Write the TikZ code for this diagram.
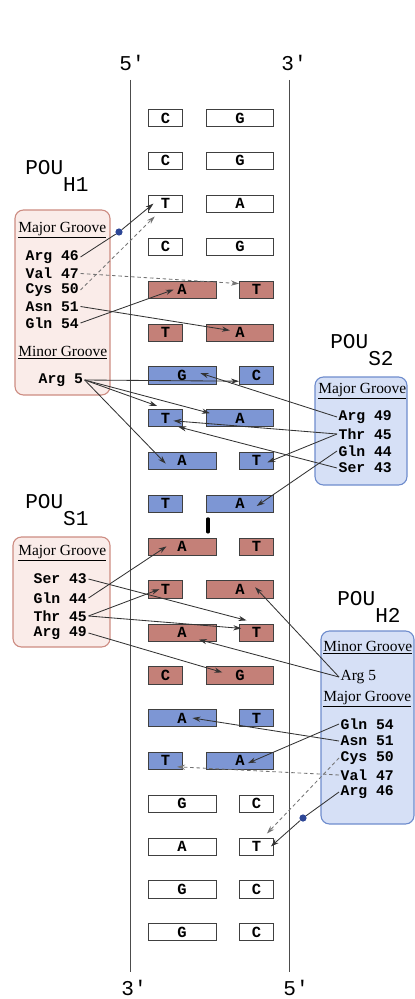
\documentclass[tikz,border=0pt]{standalone}
\usepackage{fontspec}
\setmainfont{Liberation Serif}
\setmonofont{Liberation Mono}
\usepackage{tikz}
\usetikzlibrary{arrows.meta}
\definecolor{bpred}{RGB}{196,128,120}
\definecolor{bpblue}{RGB}{125,150,212}
\definecolor{hpink}{RGB}{250,236,233}
\definecolor{hpinkdraw}{RGB}{205,140,130}
\definecolor{sblue}{RGB}{214,224,246}
\definecolor{sbluedraw}{RGB}{110,140,205}
\definecolor{dotblue}{RGB}{45,70,150}

\begin{document}
\begin{tikzpicture}[
    bp/.style={rectangle, draw=black!75, inner sep=0pt, minimum height=0.43cm, font=\ttfamily\bfseries\fontsize{11}{11}\selectfont},
    pur/.style={bp, minimum width=1.69cm},
    pyr/.style={bp, minimum width=0.86cm},
    lb/.style={anchor=west},
    rb/.style={anchor=east},
    wbp/.style={fill=white},
    rbp/.style={fill=bpred},
    bbp/.style={fill=bpblue},
    hbox/.style={rectangle, draw=hpinkdraw, fill=hpink, rounded corners=6pt, line width=0.8pt},
    sbox/.style={rectangle, draw=sbluedraw, fill=sblue, rounded corners=6pt, line width=0.8pt},
    pou/.style={anchor=base west, inner sep=0pt, font=\ttfamily\fontsize{15}{15}\selectfont},
    prime/.style={inner sep=0pt, font=\ttfamily\fontsize{15}{15}\selectfont},
    grv/.style={anchor=west, inner sep=0pt, font=\fontsize{11}{11}\selectfont},
    res/.style={anchor=west, inner sep=1pt, font=\ttfamily\bfseries\fontsize{10.5}{10.5}\selectfont},
    bdot/.style={circle, fill=dotblue, inner sep=0pt, minimum size=0.18cm},
    ln/.style={line width=0.6pt, draw=black!80},
    arr/.style={-{Stealth[length=2mm, width=1.3mm]}, line width=0.6pt, draw=black!80},
    darr/.style={arr, draw=black!55, dash pattern=on 2.5pt off 2pt}
]
    \useasboundingbox (0,0) rectangle (10.375,-24.975);

    % strands
    \node[prime] (p5top) at (3.3, -1.575) {5′};
    \node[prime] (p3top) at (7.35, -1.575) {3′};
    \node[prime] (p3bot) at (3.35, -24.7) {3′};
    \node[prime] (p5bot) at (7.4, -24.7) {5′};
    \coordinate (st5) at (3.25, -2.0);
    \coordinate (sb3) at (3.25, -24.3);
    \coordinate (st3) at (7.225, -2.0);
    \coordinate (sb5) at (7.225, -24.3);
    \draw[line width=0.6pt, black!70] (st5) -- (sb3);
    \draw[line width=0.6pt, black!70] (st3) -- (sb5);

    % base pairs
    \node[pyr, lb, wbp] (l1) at (3.7, -2.95) {C};
    \node[pur, rb, wbp] (r1) at (6.85, -2.95) {G};
    \node[pyr, lb, wbp] (l2) at (3.7, -4.02) {C};
    \node[pur, rb, wbp] (r2) at (6.85, -4.02) {G};
    \node[pyr, lb, wbp] (l3) at (3.7, -5.09) {T};
    \node[pur, rb, wbp] (r3) at (6.85, -5.09) {A};
    \node[pyr, lb, wbp] (l4) at (3.7, -6.16) {C};
    \node[pur, rb, wbp] (r4) at (6.85, -6.16) {G};

    \node[pur, lb, rbp] (l5) at (3.7, -7.24) {A};
    \node[pyr, rb, rbp] (r5) at (6.85, -7.24) {T};
    \node[pyr, lb, rbp] (l6) at (3.7, -8.31) {T};
    \node[pur, rb, rbp] (r6) at (6.85, -8.31) {A};

    \node[pur, lb, bbp] (l7) at (3.7, -9.38) {G};
    \node[pyr, rb, bbp] (r7) at (6.85, -9.38) {C};
    \node[pyr, lb, bbp] (l8) at (3.7, -10.45) {T};
    \node[pur, rb, bbp] (r8) at (6.85, -10.45) {A};
    \node[pur, lb, bbp] (l9) at (3.7, -11.52) {A};
    \node[pyr, rb, bbp] (r9) at (6.85, -11.52) {T};
    \node[pyr, lb, bbp] (l10) at (3.7, -12.59) {T};
    \node[pur, rb, bbp] (r10) at (6.85, -12.59) {A};

    \draw[line width=2.2pt, line cap=round] (5.2, -12.97) -- (5.2, -13.3);

    \node[pur, lb, rbp] (l11) at (3.7, -13.66) {A};
    \node[pyr, rb, rbp] (r11) at (6.85, -13.66) {T};
    \node[pyr, lb, rbp] (l12) at (3.7, -14.73) {T};
    \node[pur, rb, rbp] (r12) at (6.85, -14.73) {A};
    \node[pur, lb, rbp] (l13) at (3.7, -15.81) {A};
    \node[pyr, rb, rbp] (r13) at (6.85, -15.81) {T};
    \node[pyr, lb, rbp] (l14) at (3.7, -16.88) {C};
    \node[pur, rb, rbp] (r14) at (6.85, -16.88) {G};

    \node[pur, lb, bbp] (l15) at (3.7, -17.95) {A};
    \node[pyr, rb, bbp] (r15) at (6.85, -17.95) {T};
    \node[pyr, lb, bbp] (l16) at (3.7, -19.02) {T};
    \node[pur, rb, bbp] (r16) at (6.85, -19.02) {A};

    \node[pur, lb, wbp] (l17) at (3.7, -20.09) {G};
    \node[pyr, rb, wbp] (r17) at (6.85, -20.09) {C};
    \node[pur, lb, wbp] (l18) at (3.7, -21.16) {A};
    \node[pyr, rb, wbp] (r18) at (6.85, -21.16) {T};
    \node[pur, lb, wbp] (l19) at (3.7, -22.23) {G};
    \node[pyr, rb, wbp] (r19) at (6.85, -22.23) {C};
    \node[pur, lb, wbp] (l20) at (3.7, -23.30) {G};
    \node[pyr, rb, wbp] (r20) at (6.85, -23.30) {C};

    % POU H1
    \node[pou] (pouh1) at (0.625, -4.375) {POU\lower0.425cm\hbox{H1}};
    \node[hbox, minimum width=2.375cm, minimum height=4.625cm] (boxh1) at (1.5625, -7.5625) {};
    \node[grv] (h1maj) at (0.45, -5.75) {\underline{Major Groove}};
    \node[res] (h1arg46) at (0.6, -6.425) {Arg 46};
    \node[res] (h1val47) at (0.6, -6.8375) {Val 47};
    \node[res] (h1cys50) at (0.6, -7.25) {Cys 50};
    \node[res] (h1asn51) at (0.6, -7.6625) {Asn 51};
    \node[res] (h1gln54) at (0.6, -8.075) {Gln 54};
    \node[grv] (h1min) at (0.45, -8.825) {\underline{Minor Groove}};
    \node[res] (h1arg5) at (0.925, -9.5) {Arg 5};

    % POU S2
    \node[pou] (pous2) at (8.25, -8.7) {POU\lower0.425cm\hbox{S2}};
    \node[sbox, minimum width=2.3cm, minimum height=2.7cm] (boxs2) at (9.025, -10.775) {};
    \node[grv] (s2maj) at (7.95, -9.775) {\underline{Major Groove}};
    \node[res] (s2arg49) at (8.425, -10.425) {Arg 49};
    \node[res] (s2thr45) at (8.425, -10.85) {Thr 45};
    \node[res] (s2gln44) at (8.425, -11.275) {Gln 44};
    \node[res] (s2ser43) at (8.425, -11.7) {Ser 43};

    % POU S1
    \node[pou] (pous1) at (0.625, -12.7) {POU\lower0.425cm\hbox{S1}};
    \node[hbox, minimum width=2.425cm, minimum height=2.75cm] (boxs1) at (1.5375, -14.8) {};
    \node[grv] (s1maj) at (0.45, -13.825) {\underline{Major Groove}};
    \node[res] (s1ser43) at (0.8, -14.475) {Ser 43};
    \node[res] (s1gln44) at (0.8, -14.95) {Gln 44};
    \node[res] (s1thr45) at (0.8, -15.4) {Thr 45};
    \node[res] (s1arg49) at (0.8, -15.825) {Arg 49};

    % POU H2
    \node[pou] (pouh2) at (8.425, -15.125) {POU\lower0.425cm\hbox{H2}};
    \node[sbox, minimum width=2.325cm, minimum height=4.825cm] (boxh2) at (9.1875, -18.1875) {};
    \node[grv] (h2min) at (8.075, -16.2) {\underline{Minor Groove}};
    \node[grv, inner sep=1pt] (h2arg5) at (8.475, -16.925) {Arg 5};
    \node[grv] (h2maj) at (8.075, -17.475) {\underline{Major Groove}};
    \node[res] (h2gln54) at (8.475, -18.1) {Gln 54};
    \node[res] (h2asn51) at (8.475, -18.525) {Asn 51};
    \node[res] (h2cys50) at (8.475, -18.95) {Cys 50};
    \node[res] (h2val47) at (8.475, -19.375) {Val 47};
    \node[res] (h2arg46) at (8.475, -19.8) {Arg 46};

    \node[bdot] (dot1) at (2.975, -5.8) {};
    \node[bdot] (dot2) at (7.575, -20.45) {};

    % contacts H1
    \draw[ln] (h1arg46.east) -- (dot1);
    \draw[arr] (dot1) -- ([xshift=-0.3cm]l3.center);
    \draw[darr] (h1cys50.east) -- ([xshift=-0.27cm, yshift=-0.1cm]l3.south);
    \draw[darr] (h1val47.east) -- ([yshift=0.15cm]r5.west);
    \draw[arr] (h1asn51.east) -- ([xshift=-0.25cm, yshift=0.05cm]r6.center);
    \draw[arr] (h1gln54.east) -- ([xshift=-0.21cm]l5.center);
    \draw[arr] (h1arg5.east) -- ([yshift=-0.15cm]r7.west);
    \draw[arr] (h1arg5.east) -- ([xshift=-0.21cm, yshift=0.08cm]l8.north);
    \draw[arr] (h1arg5.east) -- ([xshift=0.1cm, yshift=0.12cm]r8.west);
    \draw[arr] (h1arg5.east) -- ([xshift=-0.41cm, yshift=-0.07cm]l9.center);

    % contacts S2
    \draw[arr] (s2arg49.west) -- ([xshift=0.46cm, yshift=0.05cm]l7.center);
    \draw[arr] (s2thr45.west) -- ([xshift=0.2cm, yshift=-0.07cm]l8.center);
    \draw[arr] (s2thr45.west) -- ([xshift=0.27cm, yshift=-0.04cm]r9.center);
    \draw[arr] (s2gln44.west) -- ([xshift=0.42cm, yshift=-0.06cm]r10.center);
    \draw[arr] (s2ser43.west) -- ([xshift=0.32cm, yshift=-0.22cm]l8.center);

    % contacts S1
    \draw[arr] (s1ser43.east) -- ([xshift=-0.25cm, yshift=0.3cm]r13.center);
    \draw[arr] (s1gln44.east) -- ([xshift=-0.39cm]l11.center);
    \draw[arr] (s1thr45.east) -- ([xshift=-0.15cm]l12.center);
    \draw[arr] (s1thr45.east) -- ([xshift=-0.38cm, yshift=0.1cm]r13.center);
    \draw[arr] (s1arg49.east) -- ([xshift=-0.44cm, yshift=0.07cm]r14.center);

    % contacts H2
    \draw[arr] (h2arg5.west) -- ([xshift=0.38cm, yshift=0.05cm]r12.center);
    \draw[arr] (h2arg5.west) -- ([xshift=0.42cm, yshift=-0.18cm]l13.center);
    \draw[arr] (h2gln54.west) -- ([xshift=0.2cm, yshift=-0.06cm]r16.center);
    \draw[arr] (h2asn51.west) -- ([xshift=0.26cm]l15.center);
    \draw[darr] (h2cys50.west) -- ([xshift=0.26cm, yshift=0.1cm]r18.north);
    \draw[darr] (h2val47.west) -- ([xshift=0.29cm, yshift=-0.15cm]l16.center);
    \draw[ln] (h2arg46.west) -- (dot2);
    \draw[arr] (dot2) -- ([xshift=0.36cm]r18.center);
\end{tikzpicture}
\end{document}
